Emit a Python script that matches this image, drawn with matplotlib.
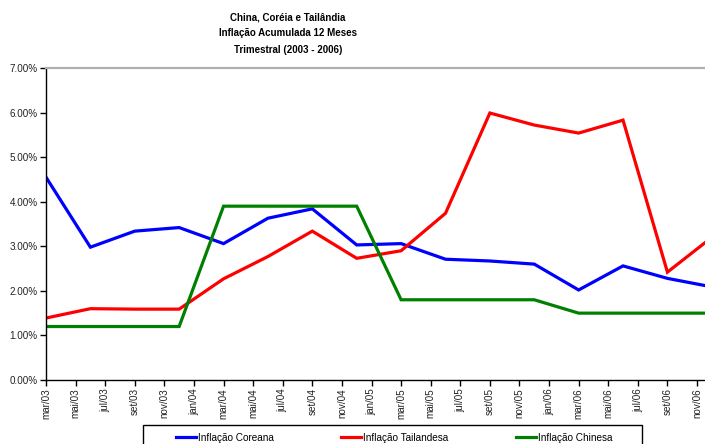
import matplotlib
matplotlib.use("Agg")
import matplotlib.pyplot as plt
from matplotlib.lines import Line2D
from matplotlib.patches import Rectangle
from matplotlib.ticker import PercentFormatter, MultipleLocator, FixedLocator, FixedFormatter
from matplotlib import font_manager

MESES = ["jan", "fev", "mar", "abr", "mai", "jun", "jul", "ago", "set", "out", "nov", "dez"]

trimestres = ["mar/03", "jun/03", "set/03", "dez/03",
              "mar/04", "jun/04", "set/04", "dez/04",
              "mar/05", "jun/05", "set/05", "dez/05",
              "mar/06", "jun/06", "set/06", "dez/06"]

inflacao_coreana = [4.55, 2.98, 3.34, 3.42, 3.06, 3.63, 3.84, 3.03,
                    3.06, 2.71, 2.67, 2.60, 2.02, 2.56, 2.28, 2.09]
inflacao_tailandesa = [1.39, 1.60, 1.59, 1.59, 2.27, 2.77, 3.34, 2.73,
                       2.90, 3.74, 5.99, 5.72, 5.54, 5.83, 2.42, 3.20]
inflacao_chinesa = [1.20, 1.20, 1.20, 1.20, 3.90, 3.90, 3.90, 3.90,
                    1.80, 1.80, 1.80, 1.80, 1.50, 1.50, 1.50, 1.50]

rotulos_x = ["mar/03", "mai/03", "jul/03", "set/03", "nov/03",
             "jan/04", "mar/04", "mai/04", "jul/04", "set/04", "nov/04",
             "jan/05", "mar/05", "mai/05", "jul/05", "set/05", "nov/05",
             "jan/06", "mar/06", "mai/06", "jul/06", "set/06", "nov/06"]

titulo = "China, Coréia e Tailândia\nInflação Acumulada 12 Meses\nTrimestral (2003 - 2006)"


def meses_desde_inicio(rotulo):
    mes, ano = rotulo.split("/")
    return (int(ano) - 3) * 12 + MESES.index(mes) - 2


installed = {f.name for f in font_manager.fontManager.ttflist}
base_font = "Liberation Sans" if "Liberation Sans" in installed else "DejaVu Sans"
plt.rcParams["font.family"] = base_font

W, H = 705, 444
fig = plt.figure(figsize=(W / 100, H / 100), dpi=100)
ax = fig.add_axes([46 / W, 1 - 380 / H, (W - 46) / W, (380 - 68) / H])

x = [meses_desde_inicio(t) for t in trimestres]
series = [
    (inflacao_coreana, "#0000ff", "Inflação Coreana"),
    (inflacao_tailandesa, "#ff0000", "Inflação Tailandesa"),
    (inflacao_chinesa, "#008000", "Inflação Chinesa"),
]
for valores, cor, nome in series:
    ax.plot(x, valores, color=cor, lw=2.3, solid_joinstyle="miter", label=nome, clip_on=True)

ax.set_xlim(0, 44.54)
ax.set_ylim(0, 7)
ax.yaxis.set_major_locator(MultipleLocator(1))
ax.yaxis.set_major_formatter(PercentFormatter(xmax=100, decimals=2))
ax.xaxis.set_major_locator(FixedLocator([meses_desde_inicio(r) for r in rotulos_x]))
ax.xaxis.set_major_formatter(FixedFormatter(rotulos_x))

ax.tick_params(axis="both", direction="out", length=4, width=1, color="black",
               labelsize=7.1, labelcolor="#222222", pad=2)
ax.tick_params(axis="x", labelrotation=90)

for s in ("left", "bottom"):
    ax.spines[s].set_color("black")
    ax.spines[s].set_linewidth(1.0)
ax.spines["right"].set_visible(False)
ax.spines["top"].set_color("#b0b0b0")
ax.spines["top"].set_linewidth(1.6)

fig.text(288 / W, 1 - 12 / H, titulo, ha="center", va="top", fontsize=7.0,
         fontweight="bold", linespacing=1.8)

# legend frame running off the bottom edge
fig.patches.append(Rectangle((143 / W, -0.05), (642 - 143) / W, (1 - 425 / H) + 0.05,
                             transform=fig.transFigure, facecolor="white",
                             edgecolor="black", lw=1.0))
handles = [Line2D([], [], color=c, lw=2.3) for _, c, _ in series]
fig.legend(handles, [n for _, _, n in series], loc="center left",
           bbox_to_anchor=(176 / W, 1 - 437.5 / H), ncol=3, frameon=False,
           fontsize=7.2, handlelength=2.0, handletextpad=0.15,
           columnspacing=6.8, borderaxespad=0, borderpad=0)

fig.savefig("out.png", dpi=100)
